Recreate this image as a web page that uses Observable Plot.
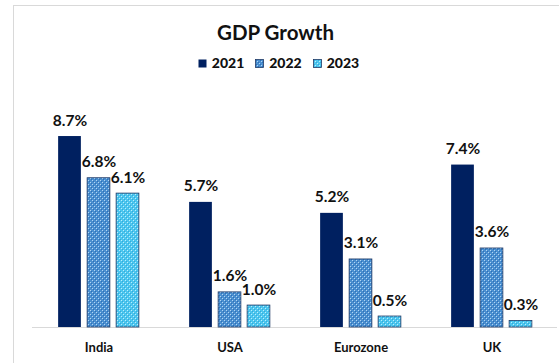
<!DOCTYPE html>
<html>
<head>
<meta charset="utf-8">
<script src="https://cdn.jsdelivr.net/npm/d3@7"></script>
<script src="https://cdn.jsdelivr.net/npm/@observablehq/plot@0.6"></script>
<style>
  html, body { margin: 0; padding: 0; background: #fff; }
  #wrap { position: relative; width: 559px; height: 363px; overflow: hidden; font-family: Lato, "Open Sans", sans-serif; }
  #frame { position: absolute; left: 13px; top: 5px; width: 600px; height: 400px; border: 1px solid #d9d9d9; box-sizing: border-box; }
  #title { position: absolute; left: 0; top: 19px; width: 551px; text-align: center; font-size: 20.5px; font-weight: 700; color: #111; line-height: 26px; }
  #legend { position: absolute; left: 0; top: 54px; width: 557px; display: flex; justify-content: center; gap: 11px; font-size: 14px; font-weight: 900; color: #111; line-height: 18px; }
  .item { display: flex; align-items: center; gap: 5px; }
  #chart { position: absolute; left: 0; top: 0; }
</style>
</head>
<body>
<svg width="0" height="0" style="position:absolute">
  <defs>
    <pattern id="p2022" width="4" height="4" patternUnits="userSpaceOnUse">
      <rect width="4" height="4" fill="#4a8fd0"/>
      <rect x="0" y="0" width="1" height="1" fill="#b1d5f3"/>
      <rect x="2" y="2" width="1" height="1" fill="#b1d5f3"/>
      <rect x="1" y="1" width="1" height="1" fill="#2f6fb5"/>
      <rect x="3" y="3" width="1" height="1" fill="#2f6fb5"/>
    </pattern>
    <pattern id="p2023" width="4" height="4" patternUnits="userSpaceOnUse">
      <rect width="4" height="4" fill="#4cc6ef"/>
      <rect x="0" y="0" width="1" height="1" fill="#b9eefc"/>
      <rect x="2" y="2" width="1" height="1" fill="#b9eefc"/>
      <rect x="1" y="1" width="1" height="1" fill="#35a9d8"/>
      <rect x="3" y="3" width="1" height="1" fill="#35a9d8"/>
    </pattern>
  </defs>
</svg>
<div id="wrap">
  <div id="frame"></div>
  <div id="chart"></div>
  <div id="title">GDP Growth</div>
  <div id="legend"></div>
</div>
<script>
const countries = ["India", "USA", "Eurozone", "UK"];
const years = ["2021", "2022", "2023"];
const g2021 = [8.7, 5.7, 5.2, 7.4];
const g2022 = [6.8, 1.6, 3.1, 3.6];
const g2023 = [6.1, 1.0, 0.5, 0.3];
const fills = ["#002060", "url(#p2022)", "url(#p2023)"];
const strokes = ["#002060", "#1f3864", "#1f3864"];

const series = [g2021, g2022, g2023];
const data = [];
years.forEach((yr, i) => countries.forEach((c, j) => data.push({country: c, year: yr, value: series[i][j]})));

// layout constants
const barW = 23, step = 29;
const bandW = (559 - 32 - 2) / countries.length;
const inset = (bandW - barW) / 2;

const marks = [Plot.ruleY([0], {stroke: "#d9d9d9", strokeWidth: 1})];
years.forEach((yr, i) => {
  const dx = (i - 1) * step;
  const rows = data.filter(d => d.year === yr);
  marks.push(Plot.barY(rows, {
    x: "country", y: "value", fill: fills[i], stroke: strokes[i], strokeWidth: i === 0 ? 0 : 0.8,
    insetLeft: inset, insetRight: inset, dx
  }));
  marks.push(Plot.text(rows, {
    x: "country", y: "value", text: d => d.value.toFixed(1) + "%", dx, dy: -11,
    lineAnchor: "bottom", fontSize: 15.5, fontWeight: 700, fill: "#111"
  }));
});
marks.push(Plot.axisX({tickSize: 0, tickPadding: 15, fontSize: 13, fontWeight: 700, fill: "#111", label: null}));

const chart = Plot.plot({
  width: 559, height: 363,
  marginTop: 107.5, marginBottom: 36, marginLeft: 32, marginRight: 2,
  style: {background: "transparent", fontFamily: "Lato, 'Open Sans', sans-serif", color: "#111"},
  x: {domain: countries, padding: 0, axis: null},
  y: {domain: [0, 10], axis: null},
  marks
});
document.getElementById("chart").appendChild(chart);

const legend = document.getElementById("legend");
years.forEach((yr, i) => {
  const it = document.createElement("span");
  it.className = "item";
  const sw = document.createElementNS("http://www.w3.org/2000/svg", "svg");
  sw.setAttribute("width", 9); sw.setAttribute("height", 9);
  const r = document.createElementNS("http://www.w3.org/2000/svg", "rect");
  r.setAttribute("x", 0.5); r.setAttribute("y", 0.5); r.setAttribute("width", 8); r.setAttribute("height", 8);
  r.setAttribute("fill", fills[i]); r.setAttribute("stroke", i === 0 ? "none" : strokes[i]); r.setAttribute("stroke-width", 0.8);
  sw.appendChild(r);
  it.appendChild(sw);
  const t = document.createElement("span");
  t.textContent = yr;
  it.appendChild(t);
  legend.appendChild(it);
});
</script>
</body>
</html>
